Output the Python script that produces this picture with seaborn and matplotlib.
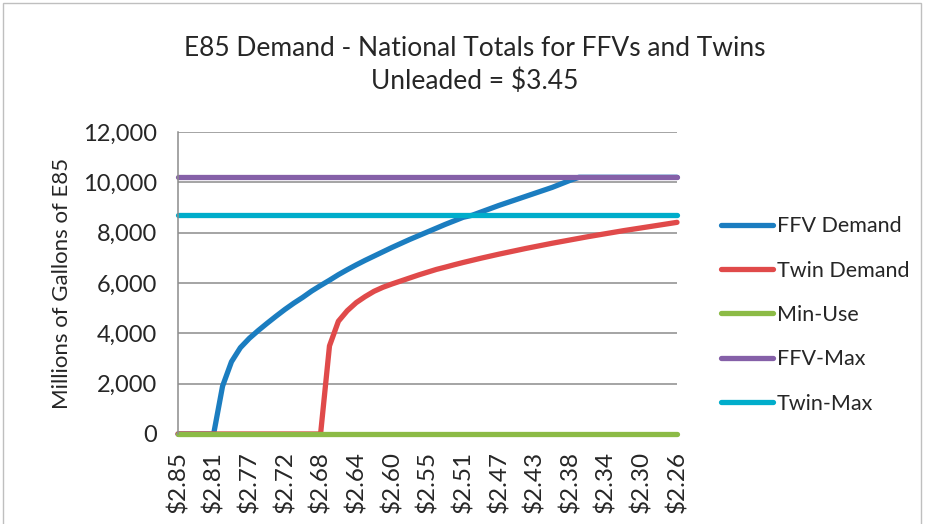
import matplotlib
matplotlib.use("Agg")
import matplotlib.pyplot as plt
from matplotlib.patches import Rectangle
import numpy as np
import pandas as pd
import seaborn as sns

# ==========================================
# data (57 price steps, label on every 4th)
# ==========================================
price_labels = ['$2.85', '$2.81', '$2.77', '$2.72', '$2.68', '$2.64', '$2.60', '$2.55',
                '$2.51', '$2.47', '$2.43', '$2.38', '$2.34', '$2.30', '$2.26']

ffv_demand = [0, 0, 0, 0, 0, 1900, 2870, 3430, 3800, 4110,
              4400, 4680, 4950, 5200, 5430, 5680, 5900, 6110, 6330, 6530,
              6720, 6900, 7070, 7240, 7410, 7570, 7730, 7880, 8030, 8180,
              8330, 8470, 8610, 8690, 8820, 8950, 9080, 9200, 9320, 9440,
              9560, 9680, 9800, 9940, 10080, 10200, 10200, 10200, 10200, 10200,
              10200, 10200, 10200, 10200, 10200, 10200, 10200]

twin_demand = [0, 0, 0, 0, 0, 0, 0, 0, 0, 0,
               0, 0, 0, 0, 0, 0, 0, 3500, 4480, 4900,
               5220, 5460, 5670, 5830, 5960, 6080, 6200, 6320, 6430, 6540,
               6630, 6725, 6815, 6900, 6985, 7065, 7145, 7220, 7295, 7370,
               7440, 7510, 7580, 7645, 7710, 7775, 7840, 7900, 7960, 8020,
               8080, 8135, 8190, 8245, 8300, 8355, 8410]

min_use = [0] * 57
ffv_max = [10200] * 57
twin_max = [8700] * 57

series_names = ['FFV Demand', 'Twin Demand', 'Min-Use', 'FFV-Max', 'Twin-Max']
series_colors = ['#1b7dc0', '#e04a4a', '#8cbb46', '#8560a8', '#00adcb']

# long-form table for seaborn
step = np.arange(len(ffv_demand))
df = pd.concat([
    pd.DataFrame({'step': step, 'value': vals, 'series': name})
    for name, vals in zip(series_names, [ffv_demand, twin_demand, min_use, ffv_max, twin_max])
])

# ==========================================
# drawing
# ==========================================
sns.set_style('white')
plt.rcParams['font.family'] = ['Lato', 'DejaVu Sans']
text_color = '#262626'

fig = plt.figure(figsize=(9.25, 5.24), dpi=100)
ax = fig.add_axes([178 / 925, 1 - 434 / 524, (677 - 178) / 925, (434 - 132) / 524])

sns.lineplot(data=df, x='step', y='value', hue='series', hue_order=series_names,
             palette=series_colors, linewidth=3.8, ax=ax, legend=True)
for ln in ax.lines:
    ln.set_clip_on(False)
    ln.set_solid_capstyle('round')
    ln.set_solid_joinstyle('round')

ax.set_xlim(0, len(ffv_demand) - 1)
ax.set_ylim(0, 12000)
ax.set_yticks(range(0, 12001, 2000))
ax.set_yticklabels([f'{v:,}' for v in range(0, 12001, 2000)], fontsize=17, color=text_color)
ax.set_xticks(step[::4])
ax.set_xticklabels(price_labels, rotation=90, fontsize=17.5, color=text_color)
ax.tick_params(axis='both', length=0)
ax.tick_params(axis='y', pad=15)
ax.tick_params(axis='x', pad=12)

ax.yaxis.grid(True, color='#8c8c8c', linewidth=1.1)
ax.set_axisbelow(True)
for side in ['top', 'right', 'bottom']:
    ax.spines[side].set_visible(False)
ax.spines['left'].set_color('#8c8c8c')
ax.spines['left'].set_linewidth(1.1)

ax.set_xlabel('')
ax.set_ylabel('Millions of Gallons of E85', fontsize=16, color=text_color, labelpad=8)

# legend off to the right, no frame
handles, labels = ax.get_legend_handles_labels()
for h in handles:
    h.set_linewidth(3.8)
    h.set_solid_capstyle('round')
ax.legend(handles, labels, loc='center left', bbox_to_anchor=(712 / 925, 1 - 315 / 524),
          bbox_transform=fig.transFigure, frameon=False, fontsize=15.5,
          handlelength=2.45, handletextpad=0.15, labelspacing=1.13, borderaxespad=0)
for t in ax.get_legend().get_texts():
    t.set_color(text_color)

# two-line title centered over the chart
fig.text(475 / 925, 1 - 65 / 524, 'E85 Demand - National Totals for FFVs and Twins\nUnleaded = $3.45',
         ha='center', va='center', fontsize=19, color=text_color, linespacing=1.4)

# outer chart border
fig.patches.append(Rectangle((3 / 925, -0.02), 918 / 925, 1 - 3 / 524 + 0.02,
                             transform=fig.transFigure, fill=False,
                             edgecolor='#bfbfbf', linewidth=1))

fig.savefig('out.png', dpi=100)
